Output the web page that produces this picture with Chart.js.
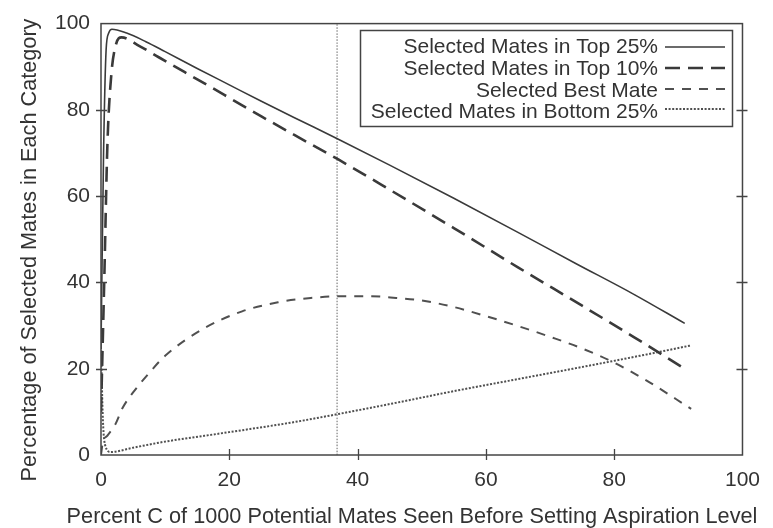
<!DOCTYPE html>
<html><head><meta charset="utf-8">
<script src="https://cdn.jsdelivr.net/npm/chart.js@4/dist/chart.umd.min.js"></script>
<style>html,body{margin:0;padding:0;background:#fff}#wrap{width:773px;height:528px}</style>
</head><body><div id="wrap"><canvas id="c" width="773" height="528"></canvas></div>
<script>
const seriesLabels = ["Selected Mates in Top 25%", "Selected Mates in Top 10%", "Selected Best Mate", "Selected Mates in Bottom 25%"];
const xTitle = "Percent C of 1000 Potential Mates Seen Before Setting Aspiration Level";
const yTitle = "Percentage of Selected Mates in Each Category";
const xTicks = [0, 20, 40, 60, 80, 100];
const yTicks = [0, 20, 40, 60, 80, 100];

const top25X = [0, 0.4, 0.8, 1.2, 1.7, 4, 7, 10, 15, 20, 25, 30, 37, 45, 55, 65, 74, 83, 91];
const top25Y = [25, 70, 94, 97.8, 98.7, 97.8, 95.8, 93.5, 89.6, 85.8, 82, 78.3, 73.2, 67.2, 59.5, 51.6, 44.4, 37.3, 30.5];

const top10X = [0, 0.5, 1, 1.6, 2.3, 3.2, 6, 9, 13, 20, 25, 30, 37, 45, 55, 65, 75, 83, 91];
const top10Y = [10, 40, 72, 88, 95, 96.8, 94.8, 92.2, 88.8, 82.8, 78.5, 74.3, 68.5, 61.5, 52.6, 43.5, 34.6, 27.4, 20];

const bestX = [0, 0.3, 1, 2.2, 3.4, 5, 7.5, 10, 16, 22, 27.6, 32.7, 37.5, 42, 46, 50, 55, 60, 65, 70, 75, 80, 85, 92];
const bestY = [0.1, 3, 4.5, 7, 11, 14.5, 19, 23, 29.3, 33.3, 35.4, 36.4, 36.8, 36.8, 36.4, 35.8, 34.3, 32.2, 29.9, 27.4, 24.7, 21.4, 17.3, 10.7];

const bottomX = [0, 0.3, 0.7, 1.5, 5, 10, 20, 30, 37, 46, 55, 65, 75, 84, 92];
const bottomY = [25, 8, 2, 0.7, 1.7, 3.1, 5.3, 7.6, 9.5, 12.1, 14.8, 17.6, 20.4, 23, 25.4];

const markerX = [36.8, 36.8];
const markerY = [0, 100];

const pts = (xs, ys) => xs.map((x, i) => ({x: x, y: ys[i]}));
const FONT = '"Liberation Sans", Arial, Helvetica, sans-serif';
const TXT = '#333333';

const datasets = [
  {label: seriesLabels[0], data: pts(top25X, top25Y), borderColor: '#3a3a3a', borderWidth: 1.6, borderDash: []},
  {label: seriesLabels[1], data: pts(top10X, top10Y), borderColor: '#3a3a3a', borderWidth: 2.6, borderDash: [15, 8]},
  {label: seriesLabels[2], data: pts(bestX, bestY), borderColor: '#505050', borderWidth: 2, borderDash: [9, 8]},
  {label: seriesLabels[3], data: pts(bottomX, bottomY), borderColor: '#505050', borderWidth: 2, borderDash: [2, 1.6]},
  {label: 'marker', data: pts(markerX, markerY), borderColor: '#666666', borderWidth: 1, borderDash: [1.5, 1.5]}
].map(d => Object.assign(d, {pointRadius: 0, fill: false, cubicInterpolationMode: 'monotone'}));

const framePlugin = {
  id: 'frame',
  afterDatasetsDraw(chart) {
    const {ctx, chartArea: a, scales: {x, y}} = chart;
    ctx.save();
    ctx.strokeStyle = '#444';
    ctx.lineWidth = 1.5;
    ctx.setLineDash([]);
    ctx.strokeRect(a.left, a.top, a.right - a.left, a.bottom - a.top);
    ctx.lineWidth = 1.3;
    ctx.beginPath();
    yTicks.slice(1, -1).forEach(v => {
      const py = Math.round(y.getPixelForValue(v)) + 0.5;
      ctx.moveTo(a.left - 5, py); ctx.lineTo(a.left + 6, py);
      ctx.moveTo(a.right - 6, py); ctx.lineTo(a.right + 5, py);
    });
    xTicks.slice(1, -1).forEach(v => {
      const px = Math.round(x.getPixelForValue(v)) + 0.5;
      ctx.moveTo(px, a.bottom - 6); ctx.lineTo(px, a.bottom + 5);
    });
    ctx.stroke();

    // axis titles
    ctx.fillStyle = TXT;
    ctx.font = '21.7px ' + FONT;
    ctx.textAlign = 'center';
    ctx.textBaseline = 'alphabetic';
    ctx.fillText(xTitle, 412, 523);
    ctx.save();
    ctx.translate(36, 250);
    ctx.rotate(-Math.PI / 2);
    ctx.fillText(yTitle, 0, 0);
    ctx.restore();

    // legend
    ctx.lineWidth = 1.5;
    ctx.strokeStyle = '#444';
    ctx.strokeRect(360.5, 30.5, 372, 96);
    const baselines = [53, 75, 97, 118];
    const lineYs = [47, 68, 89, 109];
    ctx.font = '21px ' + FONT;
    ctx.fillStyle = TXT;
    ctx.textAlign = 'right';
    ctx.textBaseline = 'alphabetic';
    for (let i = 0; i < 4; i++) {
      const ds = chart.data.datasets[i];
      ctx.fillText(ds.label, 658, baselines[i]);
      ctx.beginPath();
      ctx.strokeStyle = ds.borderColor;
      ctx.lineWidth = ds.borderWidth;
      ctx.setLineDash(ds.borderDash);
      ctx.moveTo(665, lineYs[i]); ctx.lineTo(725, lineYs[i]);
      ctx.stroke();
    }
    ctx.restore();
  }
};

new Chart(document.getElementById('c'), {
  type: 'line',
  data: {datasets},
  options: {
    responsive: false,
    animation: false,
    devicePixelRatio: 1,
    layout: {padding: {top: 15, right: 23, left: 0, bottom: 0}},
    plugins: {legend: {display: false}, tooltip: {enabled: false}},
    scales: {
      x: {
        type: 'linear', min: 0, max: 100,
        afterFit: s => { s.height = 73; },
        afterBuildTicks: s => { s.ticks = xTicks.map(v => ({value: v})); },
        grid: {display: false, drawTicks: false},
        border: {display: false},
        ticks: {color: TXT, font: {family: FONT, size: 21}, padding: 13, maxRotation: 0}
      },
      y: {
        type: 'linear', min: 0, max: 100,
        afterFit: s => { s.width = 101; },
        afterBuildTicks: s => { s.ticks = yTicks.map(v => ({value: v})); },
        grid: {display: false, drawTicks: false},
        border: {display: false},
        ticks: {color: TXT, font: {family: FONT, size: 21}, padding: 11}
      }
    }
  },
  plugins: [framePlugin]
});
</script>
</body></html>
